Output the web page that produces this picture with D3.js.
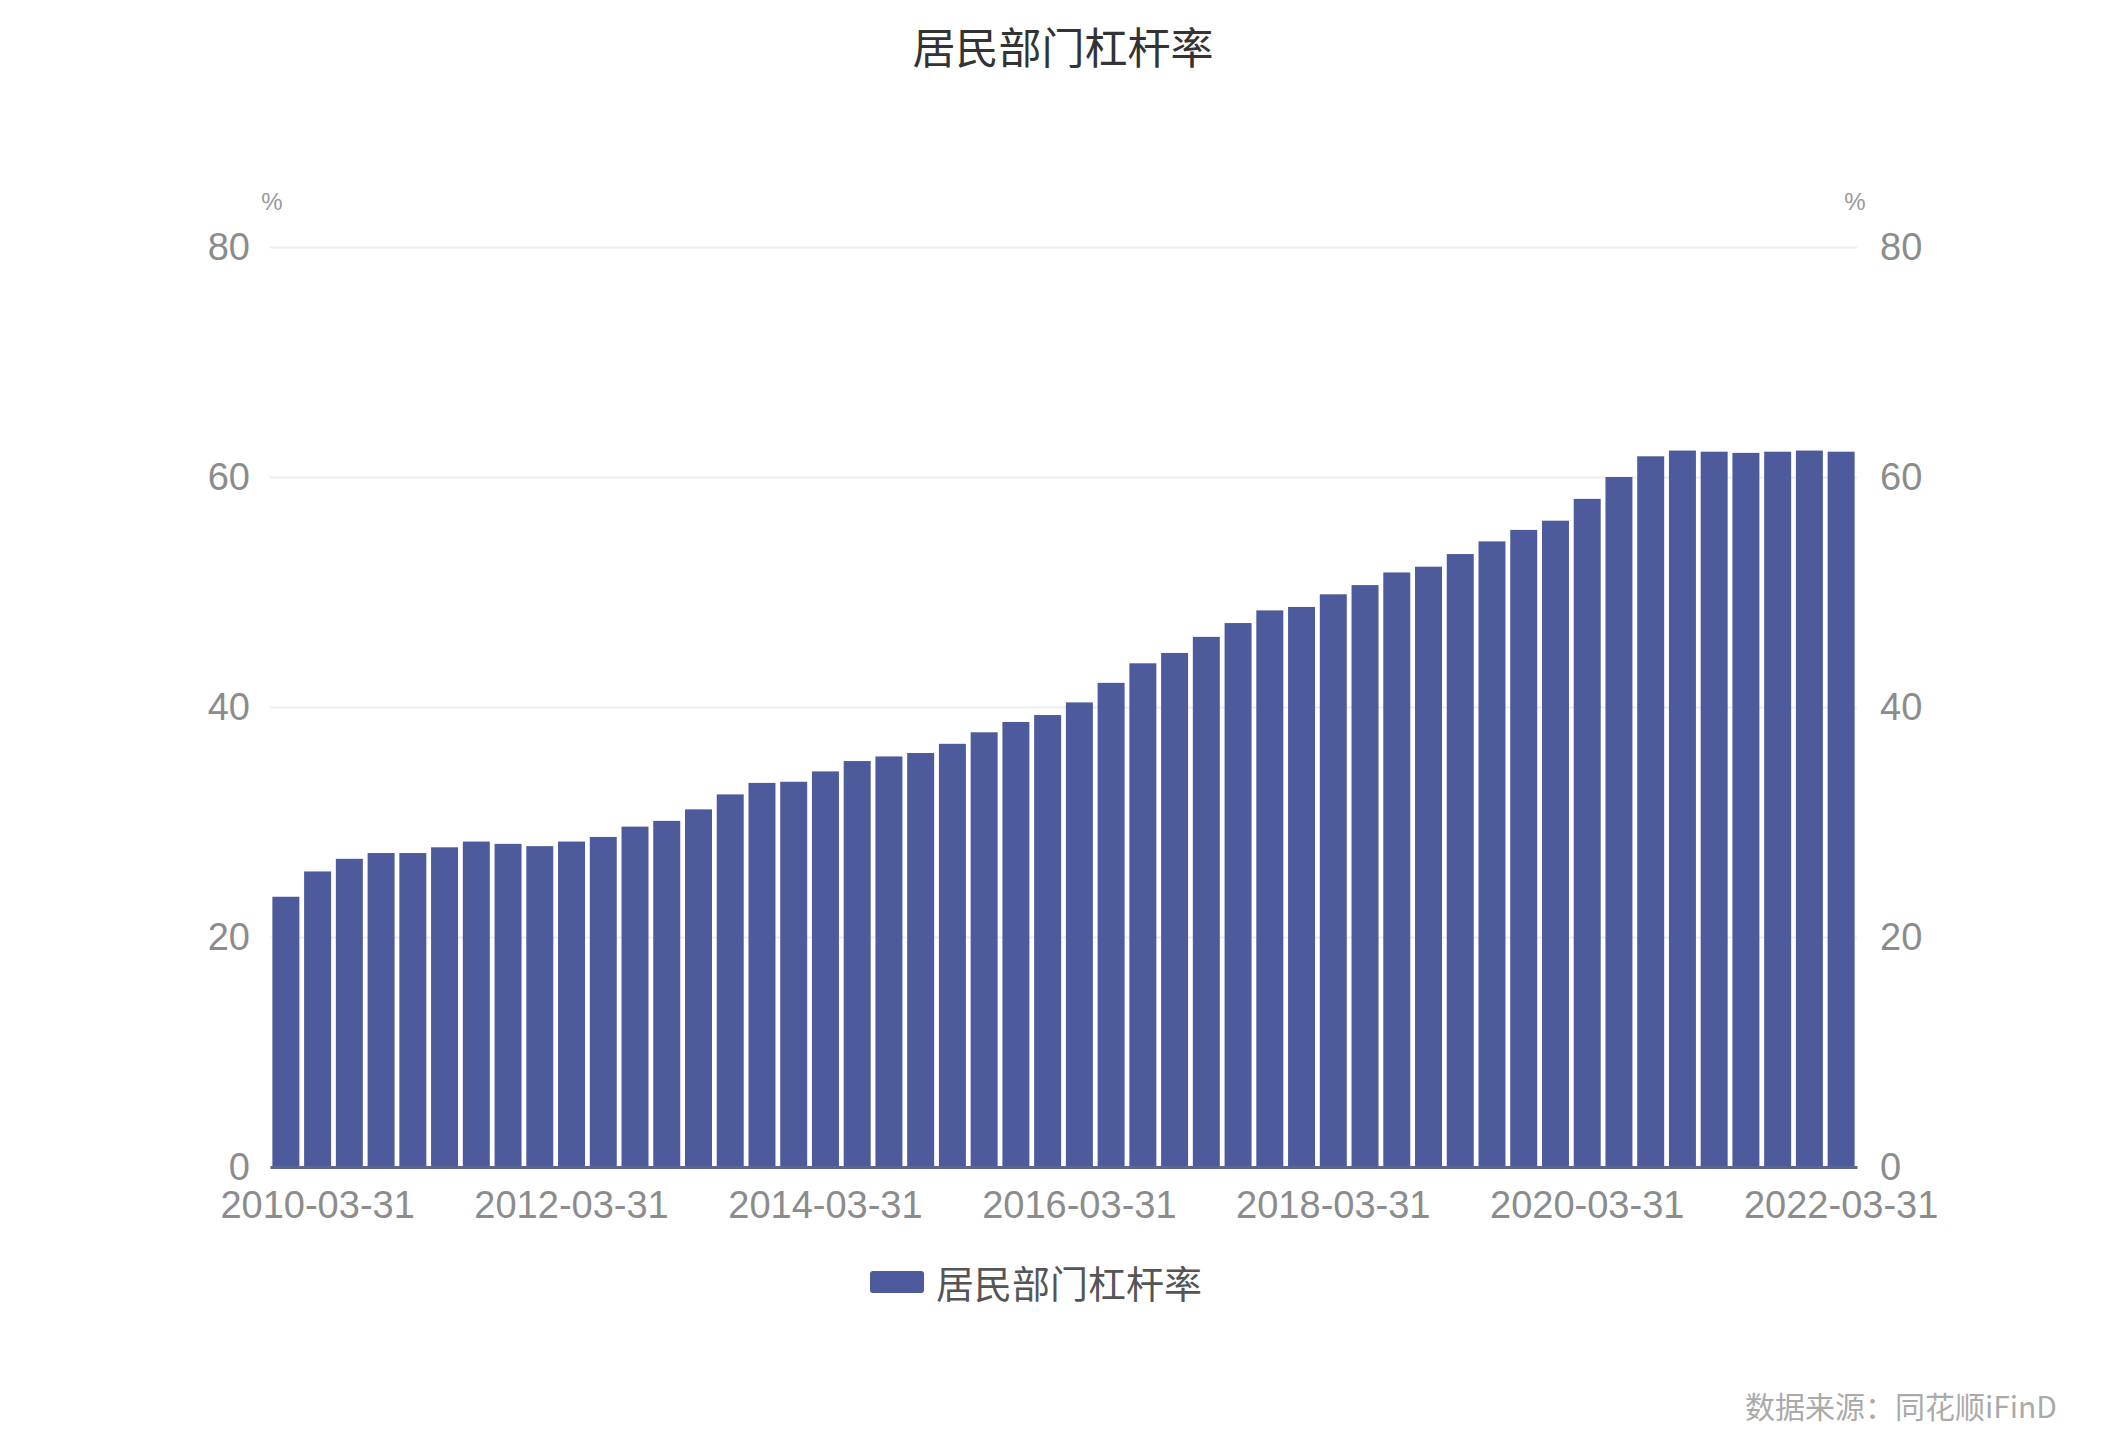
<!DOCTYPE html>
<html>
<head>
<meta charset="utf-8">
<script src="https://cdn.jsdelivr.net/npm/d3@7"></script>
<style>
  html, body { margin: 0; padding: 0; background: #fff; }
  svg text { font-family: "Liberation Sans", Arial, "Noto Sans CJK SC", sans-serif; }
  .cjk { font-family: "Noto Sans CJK SC", "Liberation Sans", sans-serif; }
</style>
</head>
<body>
<svg id="chart" width="2127" height="1440"></svg>
<script>
var title = "居民部门杠杆率"
var seriesName = "居民部门杠杆率"
var source = "数据来源：同花顺iFinD"

// quarter-end dates
var dates = [
  "2009-12-31",
  "2010-03-31","2010-06-30","2010-09-30","2010-12-31",
  "2011-03-31","2011-06-30","2011-09-30","2011-12-31",
  "2012-03-31","2012-06-30","2012-09-30","2012-12-31",
  "2013-03-31","2013-06-30","2013-09-30","2013-12-31",
  "2014-03-31","2014-06-30","2014-09-30","2014-12-31",
  "2015-03-31","2015-06-30","2015-09-30","2015-12-31",
  "2016-03-31","2016-06-30","2016-09-30","2016-12-31",
  "2017-03-31","2017-06-30","2017-09-30","2017-12-31",
  "2018-03-31","2018-06-30","2018-09-30","2018-12-31",
  "2019-03-31","2019-06-30","2019-09-30","2019-12-31",
  "2020-03-31","2020-06-30","2020-09-30","2020-12-31",
  "2021-03-31","2021-06-30","2021-09-30","2021-12-31",
  "2022-03-31"
]

// leverage ratio, %
var values = [
  23.5,
  25.7, 26.8, 27.3, 27.3,
  27.8, 28.3, 28.1, 27.9,
  28.3, 28.7, 29.6, 30.1,
  31.1, 32.4, 33.4, 33.5,
  34.4, 35.3, 35.7, 36.0,
  36.8, 37.8, 38.7, 39.3,
  40.4, 42.1, 43.8, 44.7,
  46.1, 47.3, 48.4, 48.7,
  49.8, 50.6, 51.7, 52.2,
  53.3, 54.4, 55.4, 56.2,
  58.1, 60.0, 61.8, 62.3,
  62.2, 62.1, 62.2, 62.3,
  62.2
]

var xTickLabels = ["2010-03-31","2012-03-31","2014-03-31","2016-03-31","2018-03-31","2020-03-31","2022-03-31"]
var yTicks = [0, 20, 40, 60, 80]

var barColor = "#4d5a9b"
var plotLeft = 270, plotRight = 1857, plotTop = 247, plotBottom = 1167

var svg = d3.select("#chart")

var x = d3.scaleBand()
    .domain(dates)
    .range([plotLeft, plotRight])
    .paddingInner(0.15)
    .paddingOuter(0.075)

var y = d3.scaleLinear()
    .domain([0, 80])
    .range([plotBottom, plotTop])

// title
svg.append("text")
    .attr("class", "cjk")
    .attr("x", 1063)
    .attr("y", 45)
    .attr("text-anchor", "middle")
    .attr("dominant-baseline", "central")
    .style("font-size", "43px")
    .style("fill", "#333")
    .text(title)

// gridlines
svg.append("g")
    .attr("transform", "translate(" + plotLeft + ",0)")
    .call(d3.axisLeft(y).tickValues(yTicks).tickSize(-(plotRight - plotLeft)).tickFormat(""))
    .call(function(g){ g.select(".domain").remove() })
    .selectAll("line")
    .style("stroke", "#ededed")
    .style("stroke-width", 2)

// left axis labels
svg.append("g")
    .attr("transform", "translate(" + (plotLeft - 20) + ",0)")
    .call(d3.axisLeft(y).tickValues(yTicks).tickSize(0).tickPadding(0))
    .call(function(g){ g.select(".domain").remove() })
    .selectAll("text")
    .style("font-size", "38px")
    .style("fill", "#8c8c8c")

// right axis labels
svg.append("g")
    .attr("transform", "translate(" + (plotRight + 23) + ",0)")
    .call(d3.axisRight(y).tickValues(yTicks).tickSize(0).tickPadding(0))
    .call(function(g){ g.select(".domain").remove() })
    .selectAll("text")
    .style("font-size", "38px")
    .style("fill", "#8c8c8c")

// unit labels
svg.selectAll("unitlabels")
    .data([plotLeft + 2, plotRight - 2])
    .enter()
    .append("text")
    .attr("x", function(d){ return d })
    .attr("y", 201)
    .attr("text-anchor", "middle")
    .attr("dominant-baseline", "central")
    .style("font-size", "24px")
    .style("fill", "#999")
    .text("%")

// bars
svg.selectAll("mybars")
    .data(values)
    .enter()
    .append("rect")
    .attr("x", function(d,i){ return x(dates[i]) })
    .attr("y", function(d){ return y(d) })
    .attr("width", x.bandwidth())
    .attr("height", function(d){ return y(0) - y(d) })
    .style("fill", barColor)

// x axis
var xAxis = svg.append("g")
    .attr("transform", "translate(0," + plotBottom + ")")
    .call(d3.axisBottom(x).tickValues(xTickLabels).tickSize(0).tickPadding(24))
xAxis.select(".domain")
    .style("stroke", "#5d6592")
    .style("stroke-width", 3)
xAxis.selectAll("text")
    .style("font-size", "38px")
    .style("fill", "#8c8c8c")

// legend
svg.append("rect")
    .attr("x", 870)
    .attr("y", 1271)
    .attr("width", 54)
    .attr("height", 22)
    .attr("rx", 3)
    .style("fill", barColor)

svg.append("text")
    .attr("class", "cjk")
    .attr("x", 936)
    .attr("y", 1281)
    .attr("dominant-baseline", "central")
    .style("font-size", "38px")
    .style("fill", "#555")
    .text(seriesName)

// source note
svg.append("text")
    .attr("class", "cjk")
    .attr("x", 2057)
    .attr("y", 1405)
    .attr("text-anchor", "end")
    .attr("dominant-baseline", "central")
    .style("font-size", "30px")
    .style("fill", "#aaa")
    .text(source)
</script>
</body>
</html>
